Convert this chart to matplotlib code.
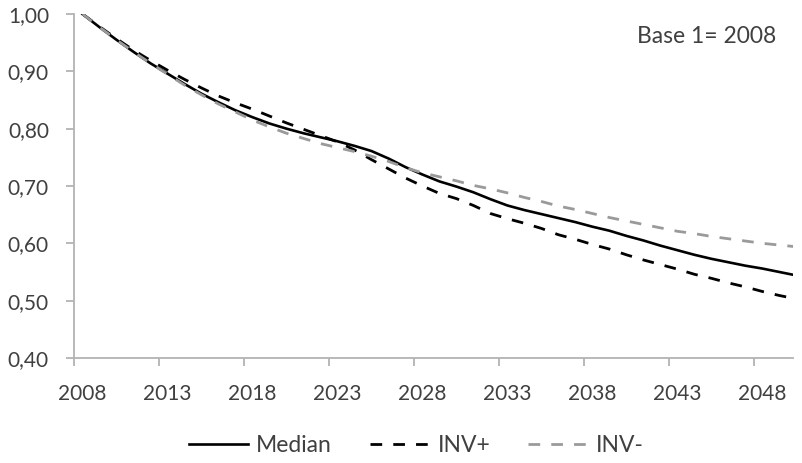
import numpy as np
import matplotlib
matplotlib.use("Agg")
import matplotlib.pyplot as plt

plt.rcParams["font.family"] = ["Lato", "DejaVu Sans"]

years = np.arange(2008, 2051)

median = [1.000, 0.977, 0.955, 0.934, 0.914, 0.896, 0.878, 0.861, 0.846, 0.832,
          0.820, 0.809, 0.800, 0.792, 0.785, 0.778, 0.770, 0.761, 0.748, 0.733,
          0.720, 0.708, 0.699, 0.689, 0.677, 0.666, 0.658, 0.651, 0.644, 0.637,
          0.629, 0.622, 0.613, 0.605, 0.596, 0.588, 0.580, 0.573, 0.567, 0.561,
          0.556, 0.550, 0.544]

inv_plus = [1.000, 0.978, 0.957, 0.937, 0.919, 0.902, 0.886, 0.871, 0.857, 0.845,
            0.834, 0.822, 0.810, 0.799, 0.788, 0.777, 0.763, 0.746, 0.730, 0.714,
            0.700, 0.687, 0.678, 0.666, 0.652, 0.643, 0.635, 0.626, 0.615, 0.607,
            0.598, 0.590, 0.580, 0.571, 0.563, 0.555, 0.546, 0.539, 0.531, 0.524,
            0.516, 0.509, 0.503]

inv_minus = [1.000, 0.977, 0.955, 0.934, 0.914, 0.895, 0.876, 0.859, 0.843, 0.829,
             0.815, 0.803, 0.792, 0.783, 0.774, 0.767, 0.760, 0.752, 0.743, 0.732,
             0.723, 0.716, 0.709, 0.701, 0.695, 0.688, 0.680, 0.673, 0.665, 0.659,
             0.652, 0.645, 0.639, 0.633, 0.627, 0.621, 0.617, 0.612, 0.608, 0.604,
             0.600, 0.597, 0.594]

label_years = [2008, 2013, 2018, 2023, 2028, 2033, 2038, 2043, 2048]
y_ticks = [0.40, 0.50, 0.60, 0.70, 0.80, 0.90, 1.00]

axis_gray = "#b3b3b3"
text_gray = "#404040"
fs = 15

fig = plt.figure(figsize=(8.03, 4.63), dpi=100)
ax = fig.add_axes([74 / 803, 1 - 358 / 463, (793 - 74) / 803, (358 - 14) / 463])

ax.plot(years, median, color="black", lw=1.9, label="Median")
ax.plot(years, inv_plus, color="black", lw=2.0, dashes=(4.2, 4), label="INV+")
ax.plot(years, inv_minus, color="#9a9a9a", lw=2.0, dashes=(4.2, 4), label="INV-")

ax.set_xlim(2007.5, 2049.8)
ax.set_ylim(0.40, 1.00)

for side in ["top", "right"]:
    ax.spines[side].set_visible(False)
for side in ["left", "bottom"]:
    ax.spines[side].set_color(axis_gray)
    ax.spines[side].set_linewidth(1.3)

# tick marks sit between categories, labels on the category itself
ax.set_xticks([y - 0.5 for y in label_years])
ax.set_xticklabels([])
ax.tick_params(axis="x", which="major", length=6, width=1.3, color=axis_gray)
ax.set_xticks(label_years, minor=True)
ax.set_xticklabels([str(y) for y in label_years], minor=True)
ax.tick_params(axis="x", which="minor", length=0, pad=19, labelsize=fs, labelcolor=text_gray)

ax.set_yticks(y_ticks)
ax.set_yticklabels([f"{v:.2f}".replace(".", ",") for v in y_ticks])
ax.tick_params(axis="y", length=6, width=1.3, color=axis_gray, pad=12,
               labelsize=fs, labelcolor=text_gray)

ax.text(0.9765, 0.935, "Base 1= 2008", transform=ax.transAxes, ha="right", va="center",
        fontsize=16.5, color=text_gray)

fig.legend(loc="center", bbox_to_anchor=(416 / 803, 1 - 446 / 463), ncol=3, frameon=False,
           fontsize=16.5, handlelength=2.6, handletextpad=0.35, columnspacing=1.65,
           labelcolor=text_gray)

fig.savefig("out.png", dpi=100)
